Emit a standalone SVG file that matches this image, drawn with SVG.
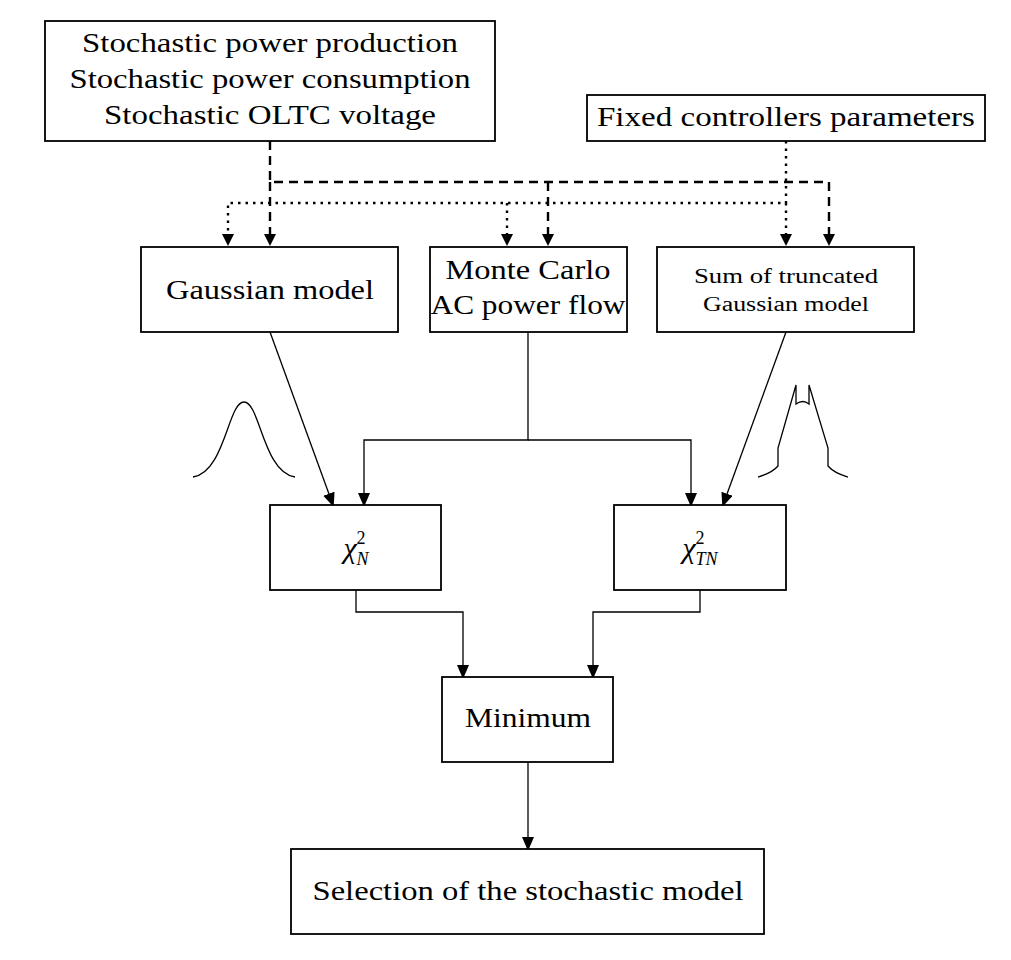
<svg xmlns="http://www.w3.org/2000/svg" width="1011" height="960" viewBox="0 0 1011 960">
<style>
text{font-family:"Liberation Serif","DejaVu Serif",serif;font-size:27px;text-anchor:middle;fill:#000}
.b{fill:#fff;stroke:#000;stroke-width:1.8}
.c{fill:none;stroke:#000;stroke-width:1.3}
.d{fill:none;stroke:#000;stroke-width:2.4;stroke-dasharray:9,6}
.o{fill:none;stroke:#000;stroke-width:2.4;stroke-dasharray:2.5,5}
</style>
<defs><marker id="a" markerWidth="12" markerHeight="16" refX="12" refY="6" orient="auto" markerUnits="userSpaceOnUse"><path d="M0,0L14,6L0,12z" fill="#000"/></marker></defs>
<rect width="1011" height="960" fill="#fff"/>
<g id="connectors">
<path class="d" d="M270,141V182H829V234M548,182V234M270,182V234" />
<path class="o" d="M786,141V203H228V234M507,203V234M786,203V234"/>
<g fill="#000"><path d="M222,234h12l-6,12z"/><path d="M264,234h12l-6,12z"/><path d="M501,234h12l-6,12z"/><path d="M542,234h12l-6,12z"/><path d="M780,234h12l-6,12z"/><path d="M823,234h12l-6,12z"/></g>
<path class="c" d="M270,332L333,505" marker-end="url(#a)"/>
<path class="c" d="M786,332L723,505" marker-end="url(#a)"/>
<path class="c" d="M528,332V440H364V505" marker-end="url(#a)"/>
<path class="c" d="M528,440H691V505" marker-end="url(#a)"/>
<path class="c" d="M356,590V612H463V677" marker-end="url(#a)"/>
<path class="c" d="M700,590V612H593V677" marker-end="url(#a)"/>
<path class="c" d="M528,762V849" marker-end="url(#a)"/>
<path class="c" d="M193,477C225,472,228,402,244,402C260,402,263,472,295,477"/>
<path class="c" d="M758,477Q772,473,778,466V448L796,385V404Q803,399,809,404V385L828,448V466Q834,473,848,477"/>
</g>
<g id="n1"><rect class="b" x="45" y="21" width="450" height="120"/><text x="270" y="52" textLength="376" lengthAdjust="spacingAndGlyphs">Stochastic power production</text><text x="270" y="88" textLength="401" lengthAdjust="spacingAndGlyphs">Stochastic power consumption</text><text x="270" y="124" textLength="332" lengthAdjust="spacingAndGlyphs">Stochastic OLTC voltage</text></g>
<g id="n2"><rect class="b" x="587" y="95" width="398" height="46"/><text x="786" y="126" textLength="378" lengthAdjust="spacingAndGlyphs">Fixed controllers parameters</text></g>
<g id="n3"><rect class="b" x="141" y="247" width="257" height="85"/><text x="270" y="299" textLength="208" lengthAdjust="spacingAndGlyphs">Gaussian model</text></g>
<g id="n4"><rect class="b" x="430" y="247" width="197" height="85"/><text x="528" y="279" textLength="165" lengthAdjust="spacingAndGlyphs">Monte Carlo</text><text x="528" y="314" textLength="195" lengthAdjust="spacingAndGlyphs">AC power flow</text></g>
<g id="n5"><rect class="b" x="657" y="247" width="257" height="85"/><text x="786" y="283" style="font-size:20px" textLength="184" lengthAdjust="spacingAndGlyphs">Sum of truncated</text><text x="786" y="311" style="font-size:20px" textLength="166" lengthAdjust="spacingAndGlyphs">Gaussian model</text></g>
<g id="n6"><rect class="b" x="270" y="505" width="171" height="85"/><text x="356" y="558" style="font-style:italic;font-size:30px">χ<tspan style="font-size:18px;font-style:normal" dy="-14">2</tspan><tspan style="font-size:18px" dx="-9" dy="21">N</tspan></text></g>
<g id="n7"><rect class="b" x="614" y="505" width="172" height="85"/><text x="700" y="558" style="font-style:italic;font-size:30px">χ<tspan style="font-size:18px;font-style:normal" dy="-14">2</tspan><tspan style="font-size:18px" dx="-9" dy="21">TN</tspan></text></g>
<g id="n8"><rect class="b" x="442" y="677" width="171" height="85"/><text x="528" y="727" textLength="126" lengthAdjust="spacingAndGlyphs">Minimum</text></g>
<g id="n9"><rect class="b" x="291" y="849" width="473" height="85"/><text x="528" y="900" textLength="431" lengthAdjust="spacingAndGlyphs">Selection of the stochastic model</text></g>
</svg>
